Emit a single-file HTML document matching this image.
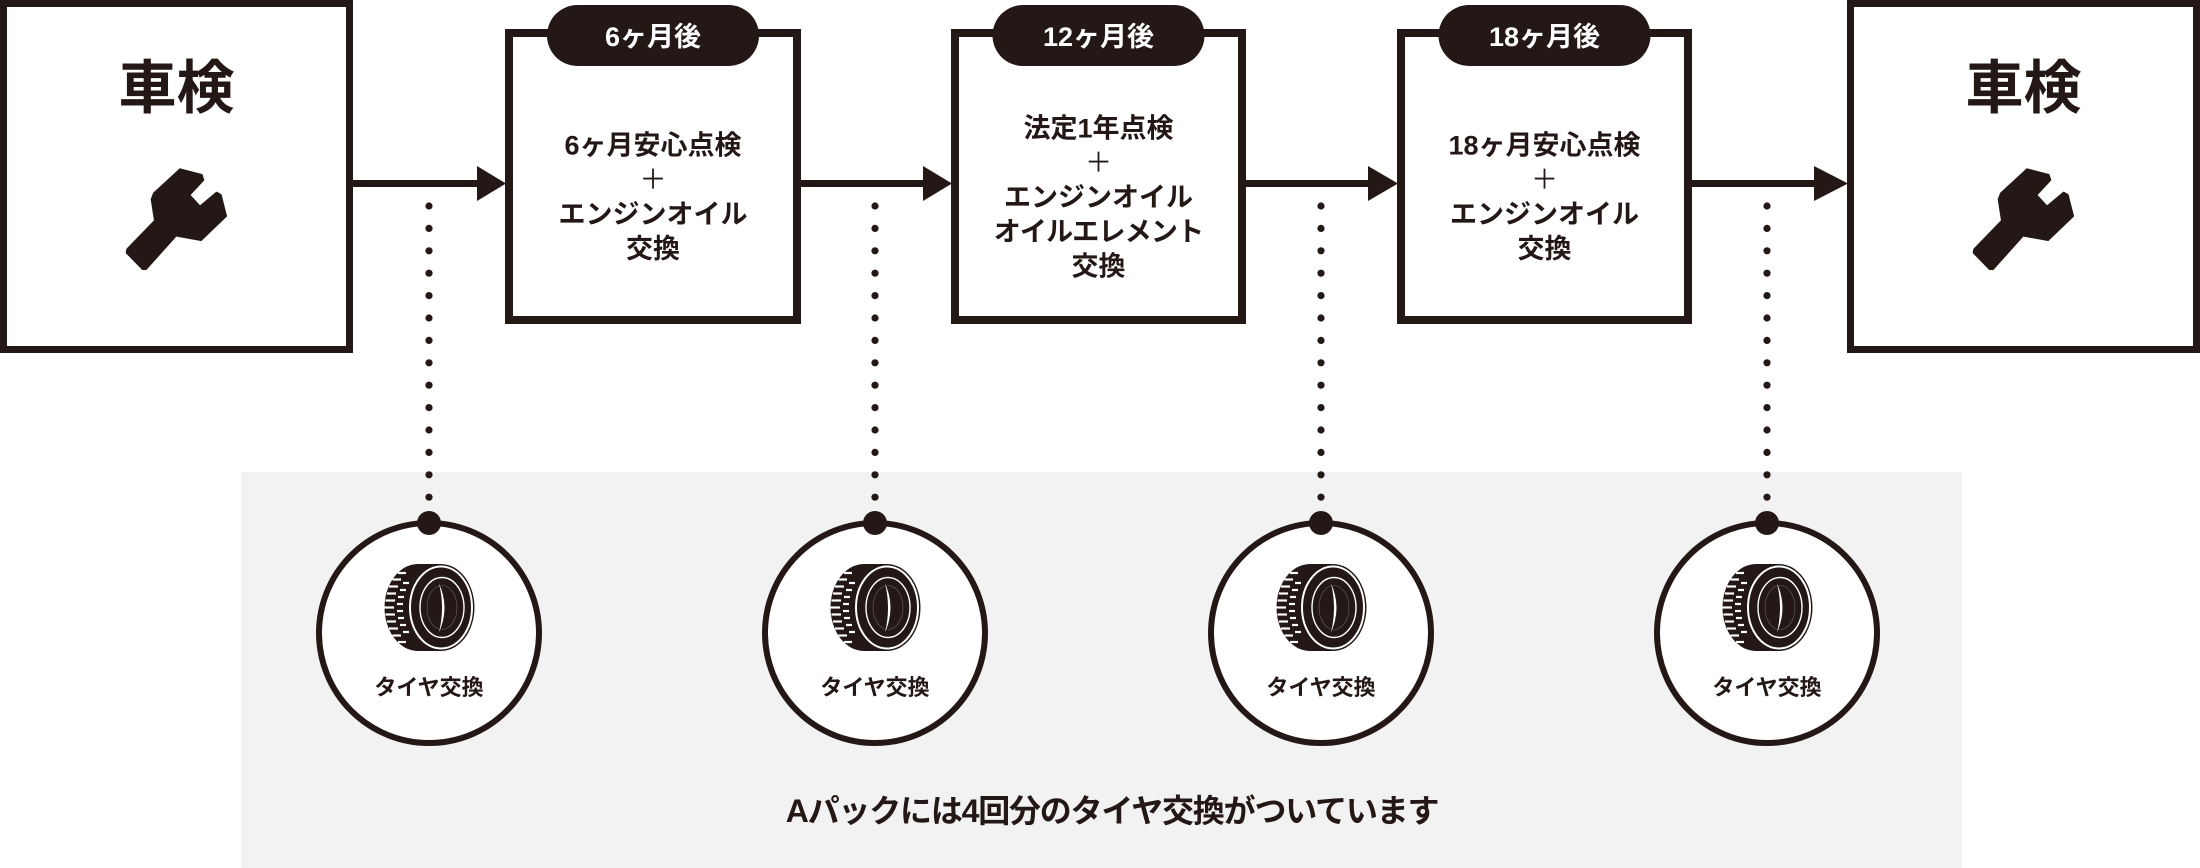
<!DOCTYPE html>
<html>
<head>
<meta charset="utf-8">
<style>
  html,body{margin:0;padding:0;background:#fff;}
  body{width:2200px;height:868px;overflow:hidden;}
  svg{display:block;}
  text{font-family:"Liberation Sans","Noto Sans CJK JP",sans-serif;fill:#231815;font-weight:700;}
  .w{fill:#fff;}
  .plus{font-weight:400;}
</style>
</head>
<body>
<svg width="2200" height="868" viewBox="0 0 2200 868" xmlns="http://www.w3.org/2000/svg">
  <defs>
    <g id="wrench">
      <polygon points="180,169.3 201.7,175 203.3,180 189.3,195 200,206.7 216.7,192.7 220.7,195 226,216 201,240 176,235.5 146,269 142.7,269 126.7,252.7 127.3,249.3 155,220.7 151.7,199.3 154,193.3" fill="#231815" stroke="#231815" stroke-width="2" stroke-linejoin="round"/>
    </g>
    <g id="tire">
      <ellipse cx="-11" cy="0" rx="33.5" ry="43.5" fill="#231815"/>
      <rect x="-11" y="-43.5" width="23" height="87" fill="#231815"/>
      <g stroke="#fff" stroke-width="2.2" stroke-linecap="butt">
        <line x1="-42" y1="-14" x2="-33" y2="-14"/>
        <line x1="-43.5" y1="-7" x2="-34" y2="-7"/>
        <line x1="-44.5" y1="0" x2="-35" y2="0"/>
        <line x1="-43.5" y1="7" x2="-34" y2="7"/>
        <line x1="-42" y1="14" x2="-33" y2="14"/>
        <line x1="-40" y1="21" x2="-31" y2="21"/>
        <line x1="-40" y1="-21" x2="-31" y2="-21"/>
        <line x1="-36.5" y1="-28" x2="-28" y2="-28"/>
        <line x1="-36.5" y1="28" x2="-28" y2="28"/>
        <line x1="-31" y1="-34.5" x2="-23" y2="-34.5"/>
        <line x1="-31" y1="34.5" x2="-23" y2="34.5"/>
        <line x1="-31" y1="-10.5" x2="-25" y2="-10.5"/>
        <line x1="-31" y1="10.5" x2="-25" y2="10.5"/>
        <line x1="-32" y1="-3.5" x2="-26" y2="-3.5"/>
        <line x1="-32" y1="3.5" x2="-26" y2="3.5"/>
        <line x1="-29" y1="-17.5" x2="-23" y2="-17.5"/>
        <line x1="-29" y1="17.5" x2="-23" y2="17.5"/>
        <line x1="-26" y1="-24.5" x2="-20" y2="-24.5"/>
        <line x1="-26" y1="24.5" x2="-20" y2="24.5"/>
      </g>
      <ellipse cx="12" cy="0" rx="33.5" ry="43.5" fill="#231815"/>
      <ellipse cx="12" cy="0" rx="31" ry="41" fill="none" stroke="#fff" stroke-width="2"/>
      <ellipse cx="13" cy="0" rx="22" ry="30" fill="none" stroke="#fff" stroke-width="1.4"/>
      <ellipse cx="13" cy="0" rx="15" ry="22" fill="none" stroke="#6a6260" stroke-width="0.6"/>
      <path d="M10,-24 Q21,0 10,25 Q16,0 10,-24 Z" fill="#fff"/>
    </g>
    <g id="dots" fill="#231815">
      <circle cx="0" cy="206" r="3.6"/><circle cx="0" cy="228.4" r="3.6"/><circle cx="0" cy="250.8" r="3.6"/>
      <circle cx="0" cy="273.2" r="3.6"/><circle cx="0" cy="295.6" r="3.6"/><circle cx="0" cy="318" r="3.6"/>
      <circle cx="0" cy="340.4" r="3.6"/><circle cx="0" cy="362.8" r="3.6"/><circle cx="0" cy="385.2" r="3.6"/>
      <circle cx="0" cy="407.6" r="3.6"/><circle cx="0" cy="430" r="3.6"/><circle cx="0" cy="452.4" r="3.6"/>
      <circle cx="0" cy="474.8" r="3.6"/><circle cx="0" cy="497.2" r="3.6"/>
    </g>
    <g id="tc">
      <circle cx="0" cy="633" r="110" fill="#fff" stroke="#231815" stroke-width="6"/>
      <circle cx="0" cy="523" r="12" fill="#231815"/>
      <use href="#tire" y="607.5"/>
      <text x="0" y="695" font-size="22" text-anchor="middle">タイヤ交換</text>
    </g>
  </defs>

  <!-- gray background -->
  <rect x="241" y="472" width="1721" height="396" fill="#f2f2f2"/>

  <!-- dotted connectors -->
  <use href="#dots" x="429"/>
  <use href="#dots" x="875"/>
  <use href="#dots" x="1321"/>
  <use href="#dots" x="1767"/>

  <!-- boxes -->
  <rect x="3.5" y="3.5" width="346" height="346" fill="#fff" stroke="#231815" stroke-width="7"/>
  <rect x="1850.5" y="3.5" width="346" height="346" fill="#fff" stroke="#231815" stroke-width="7"/>
  <rect x="509" y="33" width="288" height="287" fill="#fff" stroke="#231815" stroke-width="8"/>
  <rect x="955" y="33" width="287" height="287" fill="#fff" stroke="#231815" stroke-width="8"/>
  <rect x="1401" y="33" width="287" height="287" fill="#fff" stroke="#231815" stroke-width="8"/>

  <!-- arrows -->
  <g fill="#231815">
    <rect x="352" y="180" width="127" height="7"/>
    <polygon points="477,166 506,183.5 477,201"/>
    <rect x="800" y="180" width="125" height="7"/>
    <polygon points="923,166 952,183.5 923,201"/>
    <rect x="1245" y="180" width="125" height="7"/>
    <polygon points="1368,166 1398,183.5 1368,201"/>
    <rect x="1691" y="180" width="125" height="7"/>
    <polygon points="1814,166 1848,183.5 1814,201"/>
  </g>

  <!-- pills -->
  <rect x="547" y="5" width="212" height="61" rx="30.5" fill="#231815"/>
  <rect x="992.5" y="5" width="212" height="61" rx="30.5" fill="#231815"/>
  <rect x="1438.5" y="5" width="212" height="61" rx="30.5" fill="#231815"/>
  <text class="w" x="653" y="46" font-size="27" text-anchor="middle">6ヶ月後</text>
  <text class="w" x="1098.5" y="46" font-size="27" text-anchor="middle">12ヶ月後</text>
  <text class="w" x="1544.5" y="46" font-size="27" text-anchor="middle">18ヶ月後</text>

  <!-- end boxes content -->
  <text x="176.5" y="108" font-size="58" text-anchor="middle">車検</text>
  <text x="2023.5" y="108" font-size="58" text-anchor="middle">車検</text>
  <use href="#wrench"/>
  <use href="#wrench" x="1847"/>

  <!-- box 2 -->
  <g font-size="27" text-anchor="middle">
    <text x="653" y="154.5">6ヶ月安心点検</text>
    <text class="plus" x="653" y="189">＋</text>
    <text x="653" y="223.5">エンジンオイル</text>
    <text x="653" y="258">交換</text>
  </g>
  <!-- box 3 -->
  <g font-size="27" text-anchor="middle">
    <text x="1098.5" y="137.3">法定1年点検</text>
    <text class="plus" x="1098.5" y="171.8">＋</text>
    <text x="1098.5" y="206.3">エンジンオイル</text>
    <text x="1098.5" y="240.8" letter-spacing="-0.8">オイルエレメント</text>
    <text x="1098.5" y="275.3">交換</text>
  </g>
  <!-- box 4 -->
  <g font-size="27" text-anchor="middle">
    <text x="1544.5" y="154.5">18ヶ月安心点検</text>
    <text class="plus" x="1544.5" y="189">＋</text>
    <text x="1544.5" y="223.5">エンジンオイル</text>
    <text x="1544.5" y="258">交換</text>
  </g>

  <!-- tire circles -->
  <use href="#tc" x="429"/>
  <use href="#tc" x="875"/>
  <use href="#tc" x="1321"/>
  <use href="#tc" x="1767"/>

  <!-- bottom caption -->
  <text x="1112" y="822" font-size="32" text-anchor="middle" letter-spacing="-1.2">Aパックには4回分のタイヤ交換がついています</text>
</svg>
</body>
</html>
